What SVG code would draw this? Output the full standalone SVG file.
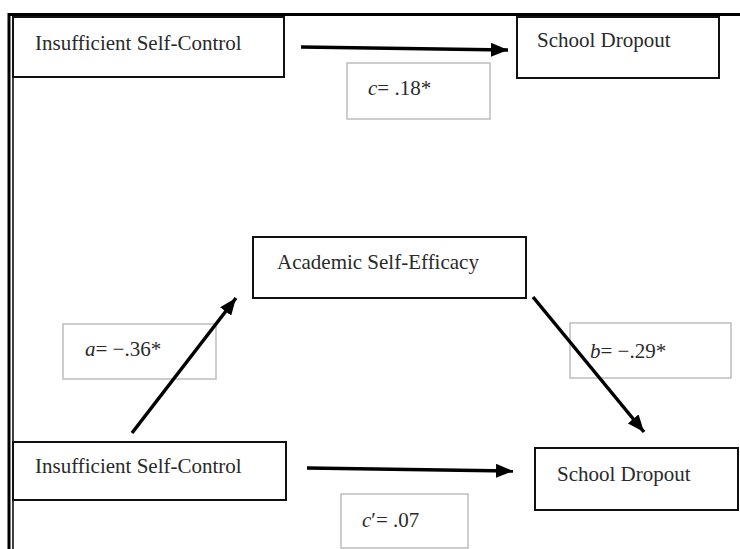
<svg xmlns="http://www.w3.org/2000/svg" width="740" height="549" viewBox="0 0 740 549">
<style>
.node rect{fill:#fff;stroke:#111;stroke-width:2}
.lab rect{fill:#fff;stroke:#bdbdbd;stroke-width:1.5}
text{font-family:"Liberation Serif","Times New Roman",serif;font-size:21px;fill:#2a2a2a}
.it{font-style:italic}
.conn line{stroke:#000;stroke-width:3.5;fill:none}
</style>
<defs>
<marker id="ah" markerUnits="userSpaceOnUse" markerWidth="17" markerHeight="14" refX="17" refY="7" orient="auto">
<path d="M0,0 L17,7 L0,14 z" fill="#000"/>
</marker>
</defs>
<rect width="740" height="549" fill="#fff"/>
<g id="frame">
<line x1="8" y1="14.5" x2="740" y2="14.5" stroke="#000" stroke-width="3"/>
<line x1="9" y1="13" x2="9" y2="549" stroke="#000" stroke-width="3"/>
<line x1="13" y1="16" x2="13" y2="549" stroke="#000" stroke-width="1.5"/>
</g>
<g id="n1" class="node"><rect x="13" y="17" width="271" height="60"/><text x="35" y="50">Insufficient Self-Control</text></g>
<g id="n2" class="node"><rect x="517" y="17" width="202" height="61"/><text x="537" y="47">School Dropout</text></g>
<g id="n3" class="node"><rect x="253" y="237" width="273" height="61"/><text x="277" y="269">Academic Self-Efficacy</text></g>
<g id="n4" class="node"><rect x="13" y="442" width="273" height="58"/><text x="35" y="473">Insufficient Self-Control</text></g>
<g id="n5" class="node"><rect x="535" y="448" width="203" height="62"/><text x="557" y="481">School Dropout</text></g>
<g id="l1" class="lab"><rect x="347" y="63" width="143" height="56"/><text x="368" y="95"><tspan class="it">c</tspan>= .18*</text></g>
<g id="l2" class="lab"><rect x="63" y="324" width="153" height="55"/><text x="85" y="356"><tspan class="it">a</tspan>= −.36*</text></g>
<g id="l3" class="lab"><rect x="570" y="323" width="161" height="55"/><text x="590" y="358"><tspan class="it">b</tspan>= −.29*</text></g>
<g id="l4" class="lab"><rect x="341" y="494" width="127" height="54"/><text x="362" y="527"><tspan class="it">c</tspan>′= .07</text></g>
<g id="connectors" class="conn">
<line x1="301" y1="47" x2="508" y2="50" marker-end="url(#ah)"/>
<line x1="132" y1="433" x2="236" y2="298" marker-end="url(#ah)"/>
<line x1="533" y1="297" x2="644" y2="432" marker-end="url(#ah)"/>
<line x1="307" y1="468" x2="513" y2="471" marker-end="url(#ah)"/>
</g>
</svg>
